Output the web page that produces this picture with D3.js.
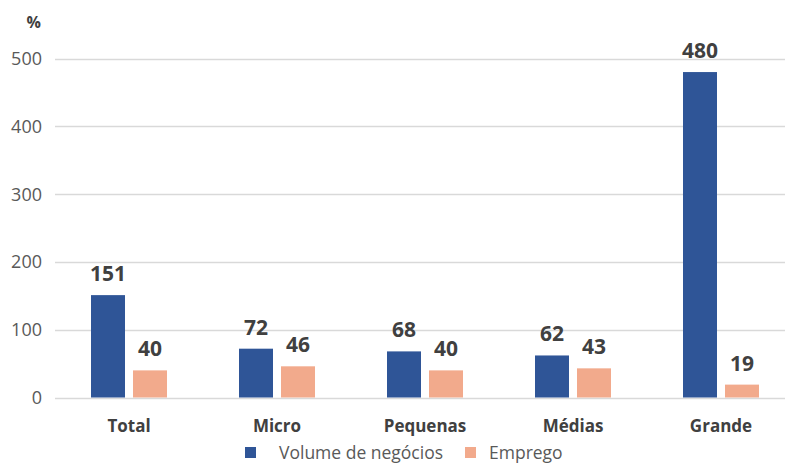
<!DOCTYPE html>
<html>
<head>
<meta charset="utf-8">
<script src="https://d3js.org/d3.v7.min.js"></script>
<style>
  body { margin: 0; background: #fff; }
  text { font-family: "Open Sans", Lato, sans-serif; }
</style>
</head>
<body>
<div id="chart"></div>
<script>
// data
var categories = ["Total", "Micro", "Pequenas", "Médias", "Grande"];
var volume = [151, 72, 68, 62, 480];
var emprego = [40, 46, 40, 43, 19];
var seriesNames = ["Volume de negócios", "Emprego"];
var yTicks = [0, 100, 200, 300, 400, 500];

var width = 786, height = 464;
var colors = ["#2F5597", "#F2AA8C"];

var svg = d3.select("#chart").append("svg")
    .attr("width", width)
    .attr("height", height);

var x = d3.scaleBand().domain(categories).range([55, 795]);
var y = d3.scaleLinear().domain([0, 500]).range([397.5, 58.5]);

var barW = 34, gap = 8;

// gridlines
svg.append("g").selectAll("line")
    .data(yTicks)
  .enter().append("line")
    .attr("x1", 55).attr("x2", 785)
    .attr("y1", function (d) { return Math.round(y(d)) + 0.5; })
    .attr("y2", function (d) { return Math.round(y(d)) + 0.5; })
    .attr("stroke", "#D9D9D9")
    .attr("stroke-width", 1.5);

// y tick labels
svg.append("g").selectAll("text")
    .data(yTicks)
  .enter().append("text")
    .attr("x", 42)
    .attr("y", function (d) { return y(d) + 6.5; })
    .attr("text-anchor", "end")
    .attr("fill", "#595959")
    .style("font-size", "18px")
    .text(function (d) { return d; });

svg.append("text")
    .attr("x", 41).attr("y", 28)
    .attr("text-anchor", "end")
    .attr("fill", "#404040")
    .style("font-size", "16px")
    .style("font-weight", "bold")
    .text("%");

var series = [volume, emprego];
series.forEach(function (vals, si) {
  var off = si === 0 ? -gap / 2 - barW : gap / 2;
  var g = svg.append("g");
  g.selectAll("rect")
      .data(vals)
    .enter().append("rect")
      .attr("x", function (d, i) { return x(categories[i]) + x.bandwidth() / 2 + off; })
      .attr("y", function (d) { return y(d); })
      .attr("width", barW)
      .attr("height", function (d) { return y(0) - y(d); })
      .attr("fill", colors[si]);
  g.selectAll("text")
      .data(vals)
    .enter().append("text")
      .attr("x", function (d, i) { return x(categories[i]) + x.bandwidth() / 2 + off + barW / 2; })
      .attr("y", function (d) { return y(d) - 14; })
      .attr("text-anchor", "middle")
      .attr("fill", "#404040")
      .style("font-size", "21px")
      .style("font-weight", "bold")
      .text(function (d) { return d; });
});

// category labels
svg.append("g").selectAll("text")
    .data(categories)
  .enter().append("text")
    .attr("x", function (d) { return x(d) + x.bandwidth() / 2; })
    .attr("y", 432)
    .attr("text-anchor", "middle")
    .attr("fill", "#404040")
    .style("font-size", "17px")
    .style("font-weight", "bold")
    .text(function (d) { return d; });

// legend
var legX = [245, 465];
seriesNames.forEach(function (name, i) {
  svg.append("rect")
      .attr("x", legX[i]).attr("y", 447)
      .attr("width", 11).attr("height", 11)
      .attr("fill", colors[i]);
  svg.append("text")
      .attr("x", legX[i] + (i === 0 ? 34 : 24)).attr("y", 459)
      .attr("fill", "#595959")
      .style("font-size", "17.5px")
      .text(name);
});
</script>
</body>
</html>
